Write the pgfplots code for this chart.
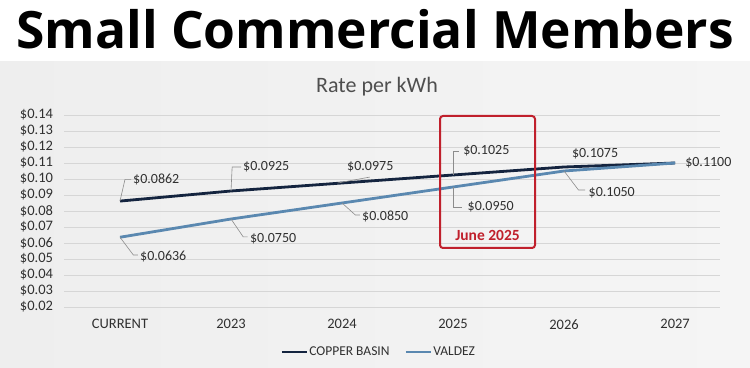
\documentclass[border=0pt]{standalone}
\usepackage{fontspec}
\setmainfont{Carlito}
\newfontfamily\titlefont{Open Sans}
\usepackage{pgfplots}
\pgfplotsset{compat=1.18}
\definecolor{copper}{HTML}{14243F}
\definecolor{valdez}{HTML}{5A88B0}
\definecolor{panel}{HTML}{EEEEEE}
\definecolor{panelr}{HTML}{F5F5F5}
\definecolor{boxred}{HTML}{C0202C}
\definecolor{txt}{HTML}{303030}
\definecolor{lead}{HTML}{8C8C8C}
\begin{document}
\begin{tikzpicture}[x=1pt,y=1pt]
\useasboundingbox (0,0) rectangle (750,367);
\fill[white] (0,0) rectangle (750,367);
\shade[left color=panel, right color=panelr] (0,0) rectangle (750,305);
\node[anchor=base, inner sep=0pt, font=\titlefont\fontsize{51.5}{56}\selectfont\bfseries] at (375,318) {Small Commercial Members};
\node[anchor=center, font=\fontsize{22}{24}\selectfont, text=txt!85] at (377,280) {Rate per kWh};
\begin{axis}[
  at={(64.5pt,60pt)}, anchor=south west,
  scale only axis, width=655pt, height=192pt,
  xmin=-0.5, xmax=5.4, ymin=0.02, ymax=0.14,
  axis line style={draw=none},
  major tick length=0pt,
  xtick={0,1,2,3,4,5},
  xticklabels={CURRENT,2023,2024,2025,2026,2027},
  ytick={0.02,0.03,0.04,0.05,0.06,0.07,0.08,0.09,0.10,0.11,0.12,0.13,0.14},
  yticklabel={\$\pgfmathprintnumber[fixed,fixed zerofill,precision=2]{\tick}},
  /pgf/number format/assume math mode=true,
  ticklabel style={font=\fontsize{14.5}{16}\selectfont, text=txt},
  xticklabel style={yshift=-9pt},
  yticklabel style={xshift=-8pt},
  ymajorgrids,
  major grid style={draw=black!16, line width=0.6pt},
  clip=false,
  legend style={at={(0.479,-0.234)}, anchor=center, draw=none, fill=none,
    legend columns=2, font=\fontsize{13.5}{15}\selectfont, text=txt,
    /tikz/every even column/.append style={column sep=14pt},
    nodes={inner xsep=1pt}},
  legend image code/.code={\draw[#1] (0pt,0pt) -- (25pt,0pt);},
]
\addplot[copper, line width=2.8pt] coordinates {(0,0.0862) (1,0.0925) (2,0.0975) (3,0.1025) (4,0.1075) (5,0.1100)};
\addplot[valdez, line width=2.8pt] coordinates {(0,0.0636) (1,0.0750) (2,0.0850) (3,0.0950) (4,0.1050) (5,0.1100)};
\legend{COPPER BASIN, VALDEZ}
\begin{scope}[lead, line width=0.6pt]
\draw (axis cs:0,0.0862) -- (axis cs:0.045,0.0998) -- (axis cs:0.1,0.0998);
\draw (axis cs:1,0.0925) -- (axis cs:1.01,0.1075) -- (axis cs:1.09,0.1075);
\draw (axis cs:1.96,0.0975) -- (axis cs:2.25,0.1012);
\draw (axis cs:3,0.1025) -- (axis cs:3,0.1175) -- (axis cs:3.05,0.1175);
\draw (axis cs:3,0.0950) -- (axis cs:3,0.0825) -- (axis cs:3.08,0.0825);
\draw (axis cs:4,0.1050) -- (axis cs:4.13,0.0931) -- (axis cs:4.19,0.0931);
\draw (axis cs:2,0.0850) -- (axis cs:2.12,0.0775) -- (axis cs:2.16,0.0775);
\draw (axis cs:1,0.0750) -- (axis cs:1.11,0.0638) -- (axis cs:1.15,0.0638);
\draw (axis cs:0,0.0636) -- (axis cs:0.12,0.0525) -- (axis cs:0.16,0.0525);
\end{scope}
\begin{scope}[every node/.style={anchor=west, inner sep=0pt, font=\fontsize{14}{16}\selectfont, text=txt}]
\node at (axis cs:0.117,0.1000) {\$0.0862};
\node at (axis cs:1.108,0.1075) {\$0.0925};
\node at (axis cs:2.045,0.1075) {\$0.0975};
\node at (axis cs:3.09,0.1175) {\$0.1025};
\node at (axis cs:4.07,0.1160) {\$0.1075};
\node at (axis cs:5.09,0.1100) {\$0.1100};
\node at (axis cs:3.13,0.0825) {\$0.0950};
\node at (axis cs:4.22,0.0913) {\$0.1050};
\node at (axis cs:2.18,0.0763) {\$0.0850};
\node at (axis cs:1.17,0.0625) {\$0.0750};
\node at (axis cs:0.18,0.0513) {\$0.0636};
\end{scope}
\end{axis}
\draw[boxred, line width=2pt, rounded corners=3pt] (440,119) rectangle (535,251);
\node[anchor=center, text=boxred, font=\fontsize{15.5}{17}\selectfont\bfseries] at (487.5,132) {June 2025};
\end{tikzpicture}
\end{document}
